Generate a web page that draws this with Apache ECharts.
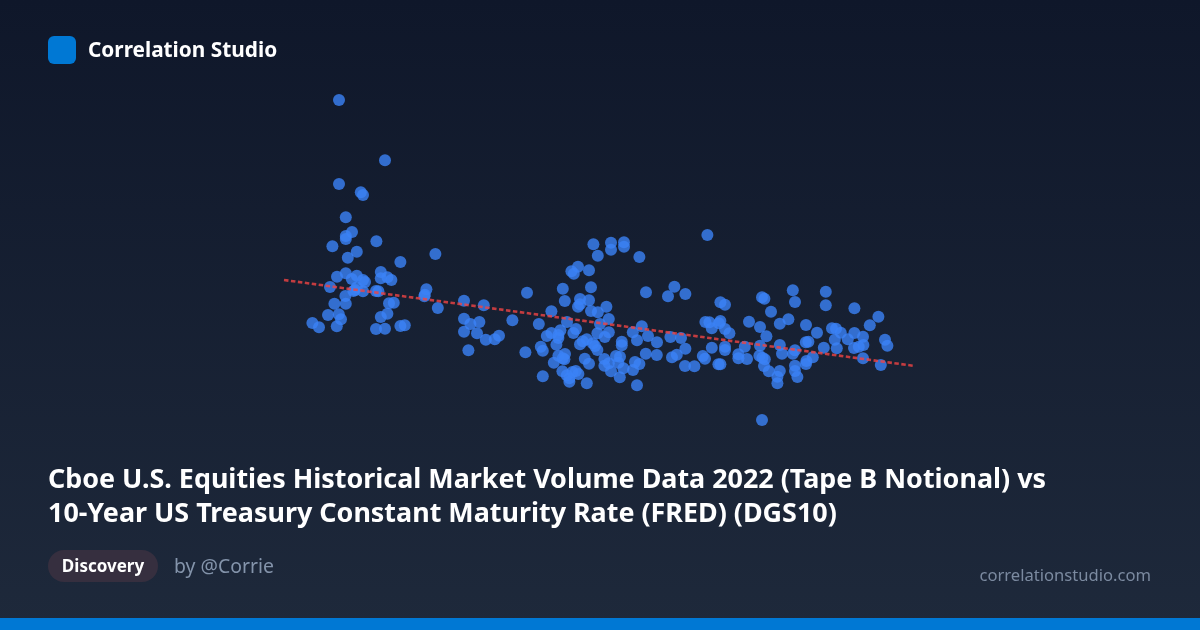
<!DOCTYPE html>
<html><head><meta charset="utf-8">
<style>html,body{margin:0;padding:0;background:#0f172a}#c{width:1200px;height:630px}</style>
<script src="https://cdn.jsdelivr.net/npm/echarts@6/dist/echarts.min.js"></script>
</head><body><div id="c"></div>
<script>
const titleLines = ["Cboe U.S. Equities Historical Market Volume Data 2022 (Tape B Notional) vs","10-Year US Treasury Constant Maturity Rate (FRED) (DGS10)"];
const brand = "Correlation Studio", tag = "Discovery", author = "by @Corrie", site = "correlationstudio.com";
// [DGS10 rate, Tape B notional] pairs
const lowRate = [[1.695,106],[1.925,93.94],[1.695,89.2],[1.804,87.54],[1.815,87],[1.729,82.54],[1.76,79.6],[1.729,78.8],[1.729,78.2],[1.662,76.74],[1.882,77.74],[1.784,75.66],[1.739,74.46],[2.177,75.2],[2.002,73.6],[1.685,70.66],[1.729,71.34],[1.784,70.86],[1.759,70.2],[1.815,70],[1.825,69.6],[1.65,68.6],[1.904,71.6],[1.904,70.34],[1.937,70.54],[1.957,70],[1.784,68.54],[1.775,68],[1.767,67.8],[1.815,67.74],[1.88,67.8],[1.892,67.74],[1.727,66.8],[1.672,65.26],[1.729,65.26],[1.945,65.34],[1.969,65.46],[1.64,63],[1.694,63.14],[1.705,62.14],[1.562,61.4],[1.595,60.54],[1.684,60.74],[1.904,62.6],[1.937,63.26],[1.88,60.2],[1.925,60.26],[2.002,60.8],[2.024,60.94],[2.132,68.14],[2.124,67.06],[2.122,66.74],[2.189,64.4],[2.32,65.86],[2.419,64.94],[2.32,62.26],[2.352,61.2],[2.397,61.6],[2.32,59.66],[2.385,59.34],[2.429,58.06],[2.474,58.14],[2.495,58.86],[2.562,61.94],[2.342,55.94],[2.627,55.54],[2.635,67.46]];
const midUpper = [[2.967,77.14],[3.055,77.46],[3.055,76.06],[3.12,77.54],[3.12,76.66],[2.989,74.86],[3.197,74.6],[2.89,72.66],[2.857,71.74],[2.869,71.26],[2.945,71.94],[2.814,68.26],[2.955,68.54],[3.23,67.54],[3.372,68.66],[3.34,66.74],[3.427,67.2],[2.824,65.8],[2.9,66.2],[2.945,65.94],[2.9,65.14],[2.89,64.66],[3.032,64.66],[2.955,63.8],[2.989,63.54],[2.757,63.74],[3.044,62.2],[2.835,61.6],[2.694,61.2],[3.0,61.2],[3.209,60.74],[2.88,60.2],[2.802,59.94],[3.164,59.54],[3.24,58.8],[2.987,59.34],[3.044,59.54],[2.757,59.4],[2.792,59],[2.867,59.4],[2.734,58.8],[3.352,58.6],[3.405,58.4]];
const midLower = [[2.792,58.4],[3.024,58.6],[3.185,57.94],[3.285,57.54],[3.427,56.26],[3.384,55.06],[3.36,54.54],[3.425,52.8],[3.284,55],[3.229,55.26],[3.109,57.66],[3.109,56.94],[2.934,58.14],[2.914,57.74],[2.9,57.14],[2.964,57.34],[2.975,56.8],[2.987,56],[2.782,57.06],[2.704,56.66],[2.714,55.86],[2.825,55.2],[2.792,54.86],[2.814,54.34],[2.822,54.14],[2.769,53.46],[2.924,54.26],[2.945,53.26],[3.022,54.2],[3.044,53.34],[3.022,52.86],[3.08,54.8],[3.1,54.66],[3.092,53.46],[3.117,52.34],[3.055,51.74],[3.175,53.6],[3.197,53.2],[3.165,52],[3.099,50.54],[3.185,48.94],[2.934,49.34],[2.812,51.74],[2.714,50.74],[2.834,50.94],[2.862,51.6],[2.879,51.8],[2.892,51.2],[2.847,49.66],[2.847,50.34]];
const highRate = [[3.537,79],[3.602,65.54],[3.625,65.06],[3.527,61.6],[3.547,61.54],[3.559,60.34],[3.602,61.8],[3.595,61.34],[3.625,60.2],[3.647,59.34],[3.472,52.74],[3.514,54.8],[3.525,54.26],[3.559,56.46],[3.625,56.66],[3.625,56],[3.592,53.14],[3.602,53.14],[3.692,55.14],[3.692,54.34],[3.735,54.2],[3.724,56.66],[3.745,61.66],[3.8,60.6],[3.832,58.74],[3.855,63.66],[3.81,66.54],[3.822,66.26],[3.899,61.26],[3.942,62.14],[3.8,56.86],[3.899,57],[3.91,55.26],[3.797,54.86],[3.812,54.46],[3.824,54.14],[3.82,52.8],[3.844,51.74],[3.899,51.8],[3.887,50.66],[3.887,49.34],[3.81,42],[3.964,67.94],[4.129,67.66],[3.975,65.6],[4.129,64.94],[4.272,64.34],[4.392,62.66],[4.03,61],[4.349,60.94],[4.085,59.46],[4.16,60.34],[4.18,60.26],[4.204,59.46],[4.272,59.4],[4.315,58.66],[4.425,58.06],[4.437,56.86],[4.174,58.06],[4.239,58.14],[4.029,57.54],[4.042,57.66],[4.119,56.46],[4.184,56.34],[4.317,57],[4.294,56.66],[4.27,56.4],[3.975,55.94],[3.964,55.26],[4.064,54.54],[4.032,53.8],[4.03,53.2],[4.315,54.34],[4.404,53],[3.975,52.86],[3.975,51.8],[3.987,50.6]];
const trendLine = [[1.42,70],[4.575,52.8]];

const FONT = '"Noto Sans", sans-serif';
const chart = echarts.init(document.getElementById('c'), null, {renderer:'canvas', width:1200, height:630});
chart.setOption({
  animation:false,
  backgroundColor:{type:'linear',x:0,y:0,x2:0,y2:1,colorStops:[{offset:0,color:'#0f172a'},{offset:1,color:'#1e293b'}]},
  grid:{left:0,top:0,width:1200,height:630},
  xAxis:{type:'value',min:0,max:6,show:false},
  yAxis:{type:'value',min:0,max:126,show:false},
  series:[
    {type:'scatter',data:[...lowRate,...midUpper,...midLower,...highRate],symbolSize:12,silent:true,
     itemStyle:{color:'#3b82f6',opacity:0.8}, z:2},
    {type:'line',data:trendLine,symbol:'none',silent:true,z:3,
     lineStyle:{color:'#ef4444',width:2.6,opacity:0.8,type:[4.5,2.5]}}
  ],
  graphic:[
    {type:'rect',shape:{x:0,y:618,width:1200,height:12},style:{fill:'#0078d4'},silent:true},
    {type:'rect',shape:{x:48,y:36,width:28,height:28,r:6},style:{fill:'#0078d4'},silent:true},
    {type:'text',x:88,y:51,style:{text:brand,fill:'#ffffff',font:'700 20.8px '+FONT,textVerticalAlign:'middle'}},
    {type:'text',x:48,y:480.5,style:{text:titleLines[0],fill:'#ffffff',font:'700 26.9px '+FONT,textVerticalAlign:'middle'}},
    {type:'text',x:48,y:514.5,style:{text:titleLines[1],fill:'#ffffff',font:'700 26.9px '+FONT,textVerticalAlign:'middle'}},
    {type:'rect',shape:{x:48,y:550,width:110,height:32,r:16},style:{fill:'#362f3f'},silent:true},
    {type:'text',x:103,y:567,style:{text:tag,fill:'#ffffff',font:'700 17px '+FONT,textAlign:'center',textVerticalAlign:'middle'}},
    {type:'text',x:174,y:567.5,style:{text:author,fill:'#8494ab',font:'400 19.4px '+FONT,textVerticalAlign:'middle'}},
    {type:'text',x:1151,y:576,style:{text:site,fill:'#7b8aa0',font:'400 16.6px '+FONT,textAlign:'right',textVerticalAlign:'middle'}}
  ]
});
</script></body></html>
